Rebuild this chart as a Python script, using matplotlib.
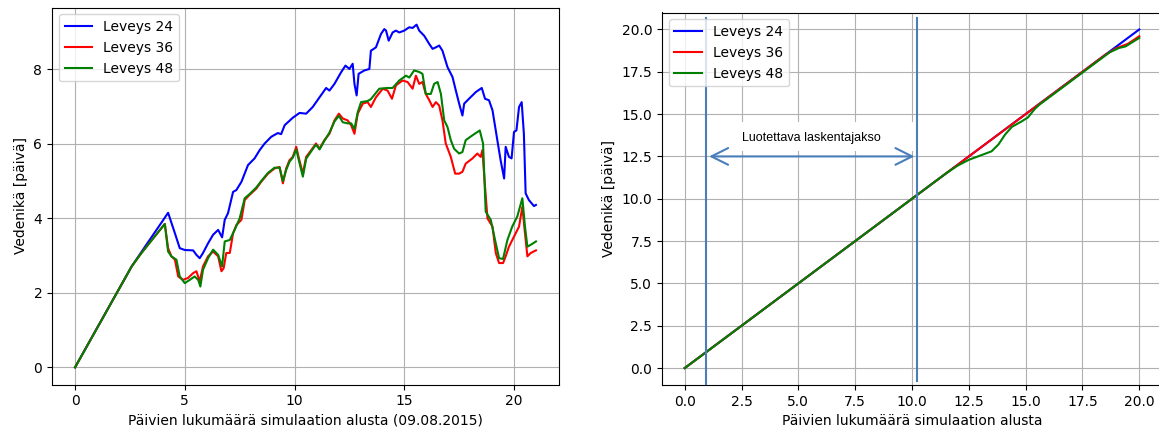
import matplotlib
matplotlib.use('Agg')
import matplotlib.pyplot as plt
from matplotlib.patches import Rectangle
import numpy as np

# Left panel: water age over the simulation (x = day, y = age in days)
leveys24 = [(0, 0), (2.58, 2.71), (3.2, 3.25), (4.0, 3.94), (4.24, 4.15), (4.55, 3.6), (4.77, 3.2),
            (5.0, 3.15), (5.38, 3.14), (5.53, 3.02), (5.68, 2.93), (5.83, 3.07), (6.06, 3.33),
            (6.29, 3.56), (6.52, 3.69), (6.7, 3.49), (6.82, 3.96), (6.97, 4.14), (7.2, 4.71),
            (7.35, 4.76), (7.58, 4.98), (7.88, 5.43), (8.18, 5.61), (8.41, 5.83), (8.64, 6.01),
            (8.94, 6.19), (9.24, 6.29), (9.39, 6.26), (9.55, 6.5), (9.92, 6.70), (10.23, 6.83),
            (10.53, 6.81), (10.83, 6.99), (11.14, 7.25), (11.44, 7.5), (11.59, 7.43), (11.82, 7.61),
            (12.12, 7.92), (12.32, 8.1), (12.5, 8.01), (12.65, 8.15), (12.73, 7.61), (12.83, 7.3),
            (12.92, 7.88), (13.18, 7.97), (13.41, 8.01), (13.48, 8.5), (13.71, 8.59), (13.94, 8.95),
            (14.09, 9.08), (14.17, 9.04), (14.29, 8.77), (14.47, 8.99), (14.62, 9.04), (14.77, 8.99),
            (15.0, 9.04), (15.23, 9.13), (15.38, 9.11), (15.56, 9.2), (15.68, 9.04), (15.91, 8.9),
            (16.14, 8.68), (16.29, 8.55), (16.44, 8.59), (16.59, 8.64), (16.74, 8.5), (16.97, 8.06),
            (17.2, 7.79), (17.35, 7.43), (17.5, 7.08), (17.65, 6.76), (17.73, 7.08), (17.95, 7.21),
            (18.26, 7.39), (18.53, 7.5), (18.68, 7.21), (18.86, 7.17), (19.02, 6.9), (19.24, 6.1),
            (19.39, 5.56), (19.55, 5.07), (19.62, 5.92), (19.77, 5.65), (19.89, 5.61), (20.0, 6.32),
            (20.11, 6.36), (20.23, 6.99), (20.35, 7.12), (20.45, 6.27), (20.53, 4.67), (20.68, 4.49),
            (20.91, 4.33), (21.0, 4.36)]

leveys36 = [(0, 0), (2.58, 2.71), (3.0, 3.05), (3.5, 3.42), (4.09, 3.85), (4.24, 3.2), (4.39, 2.98),
            (4.55, 2.89), (4.7, 2.44), (4.92, 2.35), (5.15, 2.40), (5.38, 2.53), (5.53, 2.58),
            (5.68, 2.31), (5.83, 2.71), (6.06, 2.98), (6.29, 3.11), (6.52, 2.98), (6.67, 2.58),
            (6.77, 2.66), (6.89, 3.07), (7.05, 3.07), (7.2, 3.6), (7.35, 3.82), (7.58, 3.96),
            (7.73, 4.49), (7.95, 4.63), (8.26, 4.8), (8.48, 4.98), (8.79, 5.2), (9.09, 5.34),
            (9.32, 5.38), (9.47, 4.94), (9.62, 5.34), (9.77, 5.56), (9.92, 5.65), (10.08, 5.92),
            (10.2, 5.61), (10.38, 5.2), (10.53, 5.65), (10.76, 5.83), (10.98, 6.01), (11.14, 5.87),
            (11.36, 6.1), (11.59, 6.27), (11.82, 6.63), (12.02, 6.81), (12.2, 6.68), (12.42, 6.63),
            (12.58, 6.5), (12.73, 6.27), (12.88, 6.81), (13.11, 7.08), (13.33, 7.12), (13.48, 6.99),
            (13.71, 7.25), (14.02, 7.48), (14.24, 7.43), (14.44, 7.21), (14.62, 7.57), (14.92, 7.7),
            (15.15, 7.66), (15.38, 7.48), (15.53, 7.83), (15.68, 7.61), (15.83, 7.66), (15.98, 7.34),
            (16.14, 7.17), (16.29, 6.99), (16.44, 7.12), (16.59, 7.03), (16.74, 6.63), (16.89, 6.01),
            (17.12, 5.65), (17.32, 5.2), (17.5, 5.2), (17.65, 5.25), (17.8, 5.47), (18.11, 5.61),
            (18.33, 5.74), (18.48, 5.65), (18.56, 5.83), (18.68, 4.85), (18.79, 4.0), (19.02, 3.78),
            (19.17, 3.07), (19.32, 2.8), (19.5, 2.8), (19.62, 2.98), (19.77, 3.24), (20.0, 3.51),
            (20.23, 3.78), (20.38, 4.31), (20.5, 3.6), (20.61, 2.98), (20.76, 3.07), (21.0, 3.14)]

leveys48 = [(0, 0), (2.58, 2.71), (3.0, 3.05), (3.5, 3.42), (4.09, 3.85), (4.24, 3.11), (4.39, 2.98),
            (4.62, 2.89), (4.77, 2.44), (5.0, 2.26), (5.23, 2.35), (5.45, 2.44), (5.61, 2.35),
            (5.71, 2.17), (5.83, 2.62), (6.06, 2.93), (6.29, 3.16), (6.52, 3.02), (6.7, 2.71),
            (6.82, 3.38), (7.05, 3.42), (7.27, 3.69), (7.5, 4.0), (7.73, 4.54), (7.95, 4.65),
            (8.26, 4.83), (8.48, 5.0), (8.79, 5.22), (9.09, 5.36), (9.32, 5.36), (9.47, 5.0),
            (9.62, 5.3), (9.77, 5.52), (9.92, 5.63), (10.08, 5.85), (10.2, 5.55), (10.38, 5.12),
            (10.53, 5.6), (10.76, 5.8), (10.98, 5.98), (11.14, 5.85), (11.36, 6.08), (11.59, 6.3),
            (11.82, 6.6), (12.02, 6.75), (12.2, 6.58), (12.42, 6.55), (12.58, 6.55), (12.73, 6.4),
            (12.88, 6.85), (13.03, 7.12), (13.33, 7.15), (13.48, 7.2), (13.86, 7.48), (14.24, 7.5),
            (14.47, 7.5), (14.77, 7.7), (15.08, 7.83), (15.23, 7.78), (15.45, 7.97), (15.68, 7.93),
            (15.83, 7.88), (15.98, 7.34), (16.21, 7.34), (16.36, 7.61), (16.52, 7.66), (16.67, 7.34),
            (16.82, 6.63), (16.97, 6.45), (17.12, 6.1), (17.27, 5.87), (17.5, 5.74), (17.65, 5.78),
            (17.8, 6.1), (18.11, 6.23), (18.44, 6.36), (18.59, 6.01), (18.71, 4.18), (18.94, 3.96),
            (19.17, 3.33), (19.32, 2.93), (19.5, 2.91), (19.7, 3.42), (19.92, 3.78), (20.15, 4.05),
            (20.38, 4.54), (20.5, 3.78), (20.61, 3.24), (20.76, 3.29), (21.0, 3.38)]

# Right panel: steady case
tasainen24 = [(0, 0), (20, 20)]
tasainen36 = [(0, 0), (18.5, 18.5), (19.0, 18.9), (19.5, 19.15), (20, 19.6)]
tasainen48 = [(0, 0), (11.5, 11.5), (12.0, 11.95), (12.5, 12.3), (13.0, 12.55), (13.5, 12.8),
              (13.8, 13.2), (14.1, 13.8), (14.4, 14.25), (14.8, 14.55), (15.1, 14.8), (15.4, 15.3),
              (15.6, 15.55), (18.7, 18.65), (19.1, 18.9), (19.4, 19.0), (20, 19.5)]

labels = ['Leveys 24', 'Leveys 36', 'Leveys 48']
colors = ['blue', 'red', 'green']

# reliable calculation period (days)
jakso_alku = 0.95
jakso_loppu = 10.23

W, H = 1159, 434
fig = plt.figure(figsize=(W / 100, H / 100), dpi=100)
ax1 = fig.add_axes([52 / W, (H - 384.5) / H, 507 / W, 377 / H])
ax2 = fig.add_axes([662 / W, (H - 385) / H, 500 / W, 372.5 / H])

for data, lab, c in zip([leveys24, leveys36, leveys48], labels, colors):
    arr = np.array(data)
    ax1.plot(arr[:, 0], arr[:, 1], color=c, label=lab)
ax1.grid(True)
ax1.legend(loc='upper left')
ax1.set_xlabel('Päivien lukumäärä simulaation alusta (09.08.2015)')
ax1.set_ylabel('Vedenikä [päivä]')

for data, lab, c in zip([tasainen24, tasainen36, tasainen48], labels, colors):
    arr = np.array(data)
    ax2.plot(arr[:, 0], arr[:, 1], color=c, label=lab)
ax2.set_xticks(np.arange(0, 20.1, 2.5))
ax2.set_yticks(np.arange(0, 20.1, 2.5))
ax2.grid(True)
ax2.legend(loc='upper left')
ax2.set_xlabel('Päivien lukumäärä simulaation alusta')
ax2.set_ylabel('Vedenikä [päivä]')

# annotation: reliable period
line_c = '#4a7ebb'
ax2.add_patch(Rectangle((1.05, 12.8), 9.05, 1.75, facecolor='white', edgecolor='none', zorder=2.5))
ax2.axvline(jakso_alku, ymin=0.0, ymax=0.985, color=line_c, lw=1.5, zorder=3)
ax2.axvline(jakso_loppu, ymin=0.01, ymax=0.985, color=line_c, lw=1.5, zorder=3)
ax2.annotate('', xy=(jakso_alku, 12.5), xytext=(jakso_loppu, 12.5),
             arrowprops=dict(arrowstyle='<->,head_length=1.2,head_width=0.6', color=line_c, lw=1.5),
             zorder=3)
ax2.text((jakso_alku + jakso_loppu) / 2, 13.6, 'Luotettava laskentajakso', ha='center', va='center',
         fontsize=9, family='Liberation Sans', zorder=4)

plt.savefig('out.png', dpi=100)
